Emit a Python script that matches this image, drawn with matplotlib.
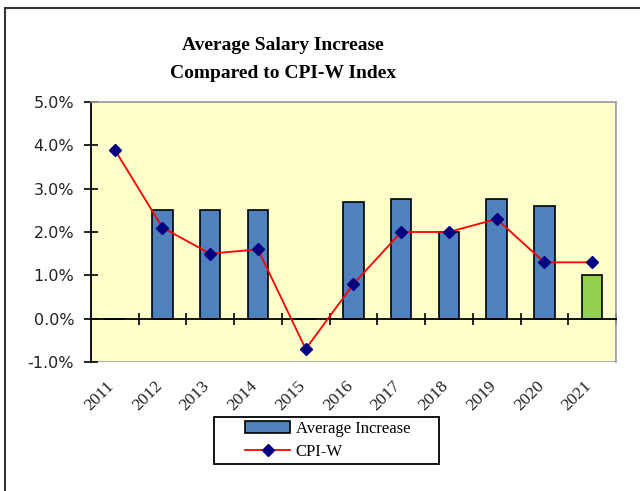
import matplotlib.pyplot as plt
from matplotlib.patches import Rectangle
from matplotlib.ticker import FuncFormatter, FixedLocator

# data
years = ['2011', '2012', '2013', '2014', '2015', '2016', '2017', '2018', '2019', '2020', '2021']
avg_increase = [0, 2.5, 2.5, 2.5, 0, 2.7, 2.75, 2.0, 2.75, 2.6, 1.0]
cpi_w = [3.9, 2.1, 1.5, 1.6, -0.7, 0.8, 2.0, 2.0, 2.3, 1.3, 1.3]
bar_colors = ['#4F81BD'] * 10 + ['#92D050']

serif = 'Liberation Serif'

fig = plt.figure(figsize=(6.4, 4.91), dpi=100)
ax = fig.add_axes([0.142, 0.2627, 0.8205, 0.5296])
ax.set_facecolor('#FFFFCC')

# spines first: moving the bottom spine resets the x ticks
for side in ['top', 'right']:
    ax.spines[side].set_color('#A0A0A0')
    ax.spines[side].set_linewidth(1.2)
ax.spines['left'].set_color('black')
ax.spines['left'].set_linewidth(1.3)
ax.spines['bottom'].set_position(('data', 0))
ax.spines['bottom'].set_color('black')
ax.spines['bottom'].set_linewidth(1.3)
ax.add_patch(Rectangle((0, 0), 1, 1, transform=ax.transAxes, fill=False,
                       edgecolor='#A0A0A0', linewidth=1.2, zorder=0.5))

x = list(range(len(years)))
bars = ax.bar(x, avg_increase, width=0.43, color=bar_colors, edgecolor='black', linewidth=1.2,
              label='Average Increase', zorder=2)
line, = ax.plot(x, cpi_w, color='red', linewidth=1.3, marker='D', markersize=6.5,
                markerfacecolor='#000080', markeredgecolor='#000080', label='CPI-W', zorder=3)

ax.set_xlim(-0.5, len(years) - 0.5)
ax.set_ylim(-1, 5)
ax.set_yticks([-1, 0, 1, 2, 3, 4, 5])
ax.yaxis.set_major_formatter(FuncFormatter(lambda v, p: f'{v:.1f}%'))

# category boundaries as ticks on the zero line, labels at centres
ax.tick_params(axis='x', which='major', direction='inout', length=8, width=1.2, color='black',
               labelbottom=False)
ax.tick_params(axis='x', which='minor', length=0, pad=49)
ax.tick_params(axis='y', direction='inout', length=10, width=1.2, pad=7,
               labelsize=11.5, labelcolor='#222222')
ax.xaxis.set_major_locator(FixedLocator([i + 0.5 for i in range(len(years))]))
ax.xaxis.set_minor_locator(FixedLocator(x))
ax.set_xticklabels(years, minor=True, rotation=45, ha='right', va='baseline',
                   rotation_mode='anchor', fontfamily=serif, fontsize=12.5, color='#222222')

fig.text(283 / 640, 1 - 45 / 491, 'Average Salary Increase', ha='center', va='center',
         fontfamily=serif, fontweight='bold', fontsize=14)
fig.text(283 / 640, 1 - 73 / 491, 'Compared to CPI-W Index', ha='center', va='center',
         fontfamily=serif, fontweight='bold', fontsize=14)

leg = ax.legend([bars, line], ['Average Increase', 'CPI-W'],
                loc='center left', bbox_to_anchor=(245 / 640, 1 - 440.5 / 491),
                bbox_transform=fig.transFigure, frameon=False,
                prop={'family': serif, 'size': 12}, handlelength=2.7, borderpad=0,
                labelspacing=0.45, handletextpad=0.35, borderaxespad=0)
# legend box drawn separately so it can be wider than its entries
fig.patches.append(Rectangle((214 / 640, 1 - 464 / 491), 225 / 640, 47 / 491,
                             transform=fig.transFigure, fill=False,
                             edgecolor='black', linewidth=1.3))

# outer frame of the chart object
fig.patches.append(Rectangle((5 / 640, -0.1), 1.2, 1 - 8 / 491 + 0.1, transform=fig.transFigure,
                             fill=False, edgecolor='#333333', linewidth=1.5))

fig.savefig('out.png', dpi=100)
